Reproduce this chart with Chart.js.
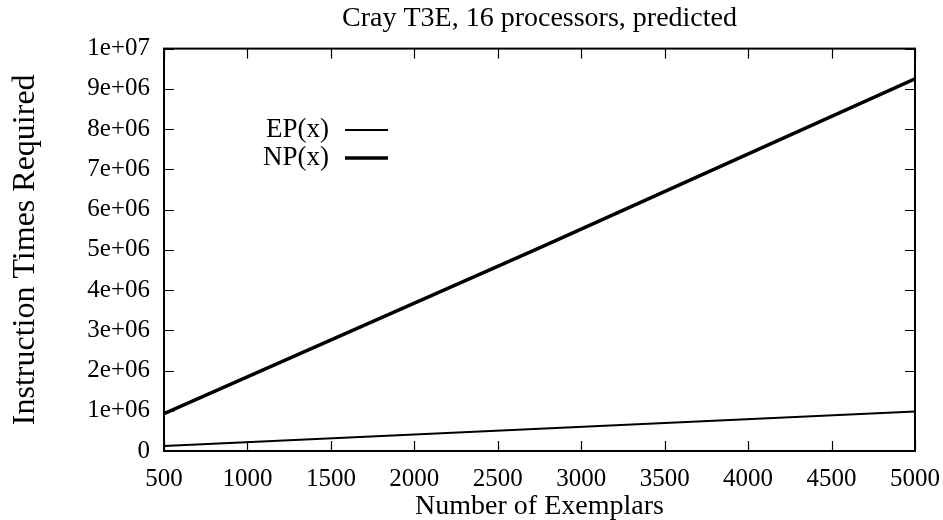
<!DOCTYPE html>
<html><head><meta charset="UTF-8"><title>Cray T3E</title>
<script src="https://cdn.jsdelivr.net/npm/chart.js"></script>
<style>
  html, body { margin: 0; padding: 0; background: #fff; }
  #wrap { width: 943px; height: 520px; }
</style></head><body>
<div id="wrap"><canvas id="c" width="943" height="520"></canvas></div>
<script>
// values
const exemplars = [500, 2750, 5000];
const epValues = [125000, 555000, 980000];
const npValues = [930000, 5050000, 9250000];
const xTicks = [500, 1000, 1500, 2000, 2500, 3000, 3500, 4000, 4500, 5000];
const yTicks = [0, 1e6, 2e6, 3e6, 4e6, 5e6, 6e6, 7e6, 8e6, 9e6, 1e7];
const yTickLabels = ['0', '1e+06', '2e+06', '3e+06', '4e+06', '5e+06', '6e+06', '7e+06', '8e+06', '9e+06', '1e+07'];

const FONT = 'Liberation Serif';

// gnuplot-style frame, inward ticks on all sides, and the key
const framePlugin = {
  id: 'frame',
  afterDatasetsDraw(chart) {
    const { ctx, chartArea: a, scales: { x, y } } = chart;
    ctx.save();
    ctx.strokeStyle = '#000';
    ctx.lineWidth = 1.2;
    const L = 10;
    ctx.beginPath();
    xTicks.forEach(v => {
      const px = Math.round(x.getPixelForValue(v)) + 0.5;
      ctx.moveTo(px, a.bottom); ctx.lineTo(px, a.bottom - L);
      ctx.moveTo(px, a.top); ctx.lineTo(px, a.top + L);
    });
    yTicks.forEach(v => {
      const py = Math.round(y.getPixelForValue(v)) + 0.5;
      ctx.moveTo(a.left, py); ctx.lineTo(a.left + L, py);
      ctx.moveTo(a.right, py); ctx.lineTo(a.right - L, py);
    });
    ctx.stroke();
    ctx.lineWidth = 2;
    ctx.strokeRect(a.left, a.top, a.right - a.left, a.bottom - a.top);

    // key
    ctx.font = '27px "' + FONT + '"';
    ctx.fillStyle = '#000';
    ctx.textAlign = 'right';
    ctx.textBaseline = 'middle';
    chart.data.datasets.forEach((ds, i) => {
      const ty = 130 + i * 28;
      ctx.fillText(ds.label, 329, ty);
      ctx.lineWidth = ds.borderWidth;
      ctx.beginPath();
      ctx.moveTo(345, ty); ctx.lineTo(388, ty);
      ctx.stroke();
    });
    ctx.restore();
  }
};

new Chart(document.getElementById('c'), {
  type: 'line',
  data: {
    datasets: [
      { label: 'EP(x)', data: exemplars.map((e, i) => ({ x: e, y: epValues[i] })), borderColor: '#000', borderWidth: 2, pointRadius: 0, tension: 0 },
      { label: 'NP(x)', data: exemplars.map((e, i) => ({ x: e, y: npValues[i] })), borderColor: '#000', borderWidth: 3.5, pointRadius: 0, tension: 0 }
    ]
  },
  options: {
    responsive: false,
    animation: false,
    layout: { padding: { left: 0, right: 28, top: 0, bottom: 0 } },
    plugins: {
      legend: { display: false },
      tooltip: { enabled: false },
      title: {
        display: true,
        fullSize: false,
        text: 'Cray T3E, 16 processors, predicted',
        color: '#000',
        font: { family: FONT, size: 28, weight: 'normal' },
        padding: { top: 2, bottom: 13 }
      }
    },
    scales: {
      x: {
        type: 'linear', min: 500, max: 5000,
        afterBuildTicks: s => { s.ticks = xTicks.map(v => ({ value: v })); },
        afterFit: s => { s.height = 69; s.paddingLeft = 0; s.paddingRight = 0; },
        grid: { display: false, drawTicks: false },
        border: { display: false },
        ticks: { color: '#000', padding: 13, maxRotation: 0, font: { family: FONT, size: 25 }, callback: v => String(v) },
        title: { display: true, text: 'Number of Exemplars', color: '#000', padding: { top: 0, bottom: -3 }, font: { family: FONT, size: 28 } }
      },
      y: {
        type: 'linear', min: 0, max: 1e7,
        afterBuildTicks: s => { s.ticks = yTicks.map(v => ({ value: v })); },
        afterFit: s => { s.width = 164; s.paddingTop = 0; s.paddingBottom = 0; },
        grid: { display: false, drawTicks: false },
        border: { display: false },
        ticks: { color: '#000', padding: 14, font: { family: FONT, size: 25 }, callback: v => yTickLabels[yTicks.indexOf(v)] },
        title: { display: true, text: 'Instruction Times Required', color: '#000', padding: { top: 6, bottom: 0 }, font: { family: FONT, size: 32 } }
      }
    }
  },
  plugins: [framePlugin]
});
</script>
</body></html>
